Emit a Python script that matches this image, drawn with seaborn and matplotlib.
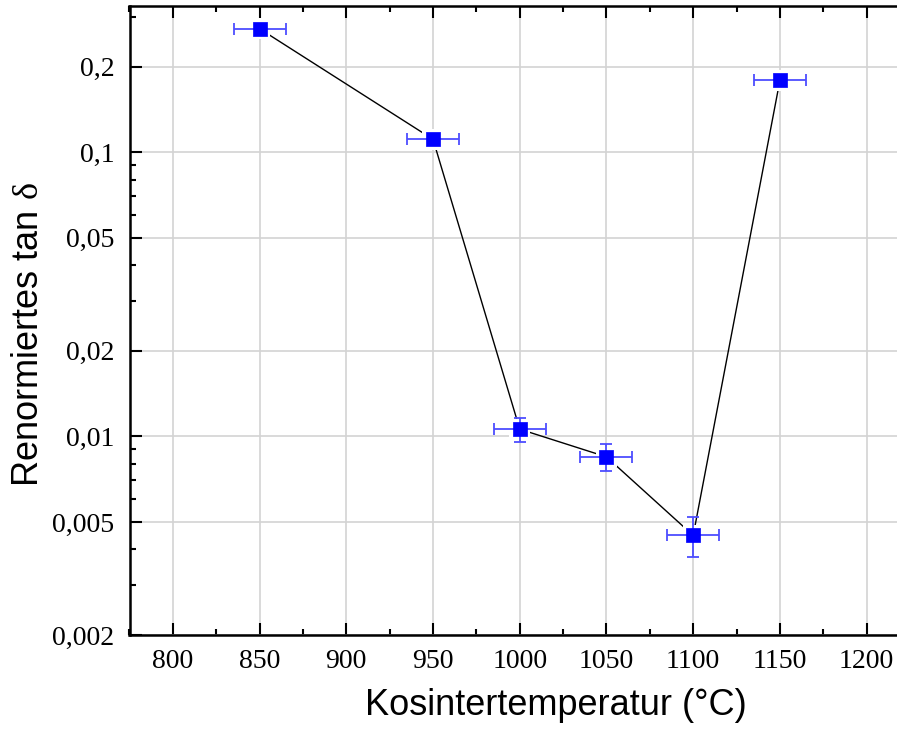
import numpy as np
import pandas as pd
import matplotlib
matplotlib.use("Agg")
import matplotlib.pyplot as plt
import matplotlib.ticker as mticker
import seaborn as sns

# Sintering temperatures and normalised loss tangent
temperature = [850, 950, 1000, 1050, 1100, 1150]
tan_delta = [0.272, 0.111, 0.0106, 0.00847, 0.00448, 0.179]
temp_err = [15, 15, 15, 15, 15, 15]
tan_delta_err = [0.008, 0.004, 0.00105, 0.00092, 0.00072, 0.006]

y_ticks = [0.002, 0.005, 0.01, 0.02, 0.05, 0.1, 0.2]
y_tick_labels = ["0,002", "0,005", "0,01", "0,02", "0,05", "0,1", "0,2"]
x_ticks = [800, 850, 900, 950, 1000, 1050, 1100, 1150, 1200]

df = pd.DataFrame({"T": temperature, "tan": tan_delta})

sns.set_theme(style="white")
plt.rcParams["mathtext.fontset"] = "custom"
plt.rcParams["mathtext.rm"] = "Liberation Serif"
plt.rcParams["text.color"] = "black"
plt.rcParams["axes.labelcolor"] = "black"
plt.rcParams["xtick.color"] = "black"
plt.rcParams["ytick.color"] = "black"

fig = plt.figure(figsize=(8.97, 7.29), dpi=100)
x_left, x_right = 129.5, 910.0
ax = fig.add_axes([x_left / 897, 94 / 729, (x_right - x_left) / 897, 629 / 729])
ax_w = x_right - x_left

ax.set_yscale("log")
ax.set_xlim(775, 1225)
ax.set_ylim(0.002, 0.327)

# grid
ax.grid(True, which="major", color="#d3d3d3", lw=1.2, zorder=0)
ax.set_axisbelow(True)

# connecting line
sns.lineplot(data=df, x="T", y="tan", color="black", lw=1.0, ax=ax,
             sort=False, zorder=2, legend=False)
# white halo to open small gaps where the line meets the symbols
ax.scatter(temperature, tan_delta, marker="s", s=230, color="white",
           edgecolor="none", zorder=3)

ax.errorbar(temperature, tan_delta, xerr=temp_err, yerr=tan_delta_err,
            fmt="none", ecolor=(0.3, 0.3, 1.0), elinewidth=1.3,
            capsize=4.5, capthick=1.3, zorder=4)

sns.scatterplot(data=df, x="T", y="tan", marker="s", s=95, color="#0000ff",
                edgecolor="#0000ff", linewidth=0.5, ax=ax, zorder=5, legend=False)

ax.set_xticks(x_ticks)
ax.xaxis.set_minor_locator(mticker.MultipleLocator(25))
ax.set_yticks(y_ticks)
ax.set_yticklabels(y_tick_labels)
minor_y = [v * m for v in (0.001, 0.01, 0.1) for m in range(2, 10)]
minor_y = [v for v in minor_y if 0.002 <= v <= 0.327 and
           not any(abs(v - t) < 1e-9 for t in y_ticks)]
ax.yaxis.set_minor_locator(mticker.FixedLocator(minor_y))
ax.yaxis.set_minor_formatter(mticker.NullFormatter())

ax.tick_params(which="both", direction="in", top=True, right=True,
               bottom=True, left=True, color="black", labelcolor="black")
ax.tick_params(which="major", length=8.5, width=1.5, labelsize=20)
ax.tick_params(axis="x", which="major", pad=10)
ax.tick_params(axis="y", which="major", pad=11)
ax.tick_params(which="minor", length=4.5, width=1.5)
for lab in ax.get_xticklabels() + ax.get_yticklabels():
    lab.set_fontfamily("Liberation Serif")

for sp in ax.spines.values():
    sp.set_visible(True)
    sp.set_color("black")
    sp.set_linewidth(1.8)

ax.set_xlabel("Kosintertemperatur (°C)", fontsize=26, family="Liberation Sans",
              color="black")
ax.set_ylabel(r"Renormiertes tan $\mathrm{\delta}$", fontsize=26,
              family="Liberation Sans", color="black")
ax.xaxis.set_label_coords((556 - x_left) / ax_w, -(688 - 635) / 629)
ax.yaxis.set_label_coords((46 - x_left) / ax_w, (635 - 335) / 629)

fig.savefig("out.png", dpi=100)
